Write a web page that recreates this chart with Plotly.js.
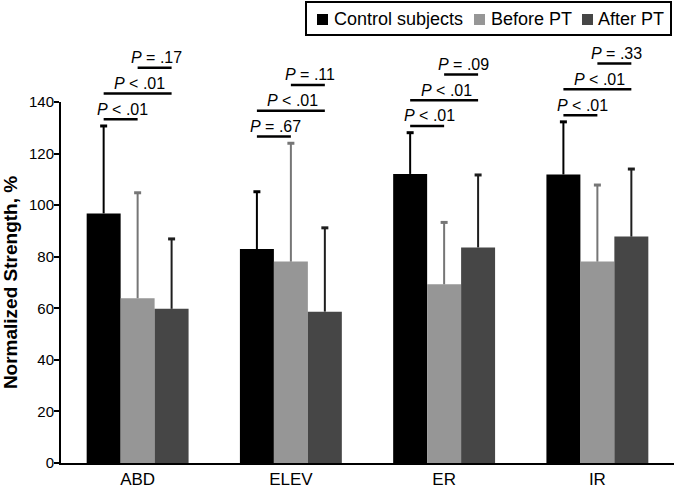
<!DOCTYPE html>
<html><head><meta charset="utf-8">
<script src="https://cdn.plot.ly/plotly-3.0.1.min.js"></script>
<style>html,body{margin:0;padding:0;background:#fff;}#chart{width:674px;height:491px;}</style>
</head><body><div id="chart"></div>
<script>
// ---- data ----
const categories = ["ABD", "ELEV", "ER", "IR"];
const seriesNames = ["Control subjects", "Before PT", "After PT"];
const controlMean = [96.8, 83.0, 112.1, 111.9];
const controlSD   = [33.9, 22.2, 16.0, 20.4];
const beforeMean  = [63.9, 78.1, 69.3, 78.1];
const beforeSD    = [40.9, 45.9, 24.0, 29.7];
const afterMean   = [59.8, 58.7, 83.6, 87.8];
const afterSD     = [27.1, 32.5, 28.1, 26.2];
const pControlBefore = ["P < .01", "P = .67", "P < .01", "P < .01"];
const pControlAfter  = ["P < .01", "P < .01", "P < .01", "P < .01"];
const pBeforeAfter   = ["P = .17", "P = .11", "P = .09", "P = .33"];
const yTickVals = [0, 20, 40, 60, 80, 100, 120, 140];

// ---- style ----
const FONT = "Liberation Sans, Arial, sans-serif";
const colors = ["#000000", "#969696", "#464646"];
const errColors = ["#000000", "#767676", "#1e1e1e"];
const W = 674, H = 491;
const M = {l: 61, r: 0, t: 102, b: 28};
const plotW = W - M.l - M.r, plotH = H - M.t - M.b;
const yMax = 140;
const bargap = 0.335;
const barW = (1 - bargap) / 3;

const means = [controlMean, beforeMean, afterMean];
const sds = [controlSD, beforeSD, afterSD];
const idx = categories.map((c, i) => i);

const traces = [];
means.forEach((m, k) => {
  traces.push({
    type: "bar",
    name: seriesNames[k],
    x: idx,
    y: m,
    marker: {color: colors[k], line: {width: 0}},
    showlegend: false,
    error_y: {
      type: "data", symmetric: false,
      array: sds[k], arrayminus: sds[k].map(() => 0),
      color: errColors[k], thickness: 2, width: 0
    },
    hoverinfo: "none"
  });
});
// error-bar caps
means.forEach((m, k) => {
  traces.push({
    type: "scatter", mode: "markers", showlegend: false, hoverinfo: "none",
    x: idx.map(i => i + (k - 1) * barW),
    y: m.map((v, i) => v + sds[k][i]),
    marker: {symbol: "line-ew-open", size: 5, color: errColors[k], line: {width: 3, color: errColors[k]}},
    cliponaxis: false
  });
});

// helpers: pixel to paper, data to paper
const pxX = px => (px - M.l) / plotW;
const pxY = py => (H - M.b - py) / plotH;
const catX = (i, k) => ((i + (k - 1) * barW) + 0.5) / categories.length;
const valY = v => v / yMax;

const shapes = [];
const annotations = [];
const step = 10;
categories.forEach((c, i) => {
  const base = Math.max(controlMean[i] + controlSD[i], beforeMean[i] + beforeSD[i]) + 2.6;
  const brackets = [
    {a: 0, b: 1, y: base, t: pControlBefore[i]},
    {a: 0, b: 2, y: base + step, t: pControlAfter[i]},
    {a: 1, b: 2, y: base + 2 * step, t: pBeforeAfter[i]}
  ];
  brackets.forEach(br => {
    const x0 = catX(i, br.a), x1 = catX(i, br.b), yy = valY(br.y);
    shapes.push({type: "line", xref: "paper", yref: "paper", x0: x0, x1: x1, y0: yy, y1: yy,
      line: {color: "#000", width: 2.5}});
    const txt = br.t.replace(/^P/, "<i>P</i>").replace(" < ", " &lt; ");
    annotations.push({xref: "paper", yref: "paper", x: (x0 + x1) / 2, y: yy, xanchor: "center",
      yanchor: "middle", yshift: 10, xshift: 2, showarrow: false, text: txt,
      font: {family: FONT, size: 16, color: "#000"}});
  });
});

// legend (drawn manually)
shapes.push({type: "rect", xref: "paper", yref: "paper", x0: pxX(306), x1: pxX(671), y0: pxY(35), y1: pxY(2),
  line: {color: "#000", width: 2}, fillcolor: "rgba(0,0,0,0)"});
const legSq = [317, 474, 582];
const legTx = [333, 490, 597];
seriesNames.forEach((n, k) => {
  shapes.push({type: "rect", xref: "paper", yref: "paper", x0: pxX(legSq[k]), x1: pxX(legSq[k] + 11),
    y0: pxY(25), y1: pxY(14), line: {width: 0}, fillcolor: colors[k]});
  annotations.push({xref: "paper", yref: "paper", x: pxX(legTx[k]), y: pxY(18.5), xanchor: "left",
    yanchor: "middle", showarrow: false, text: n, borderpad: 0,
    font: {family: FONT, size: 18, color: "#000"}});
});

const layout = {
  width: W, height: H,
  margin: M,
  paper_bgcolor: "#fff", plot_bgcolor: "#fff",
  barmode: "group", bargap: bargap, bargroupgap: 0,
  showlegend: false,
  font: {family: FONT, color: "#000"},
  xaxis: {
    range: [-0.5, categories.length - 0.5], tickvals: idx, ticktext: categories,
    showline: true, linecolor: "#000", linewidth: 2, ticks: "", showgrid: false, zeroline: false,
    tickfont: {family: FONT, size: 17, color: "#000"}, fixedrange: true
  },
  yaxis: {
    range: [0, yMax], tickvals: yTickVals, ticks: "outside", ticklen: 5, tickwidth: 2, tickcolor: "#000",
    showline: true, linecolor: "#000", linewidth: 2, showgrid: false, zeroline: false,
    ticklabelstandoff: -3,
    tickfont: {family: FONT, size: 15, color: "#000"},
    title: {text: "Normalized Strength, %", standoff: 6,
      font: {family: FONT, size: 19, color: "#000", weight: "bold"}},
    fixedrange: true
  },
  shapes: shapes,
  annotations: annotations
};

Plotly.newPlot("chart", traces, layout, {displayModeBar: false, staticPlot: true});
</script>
</body></html>
